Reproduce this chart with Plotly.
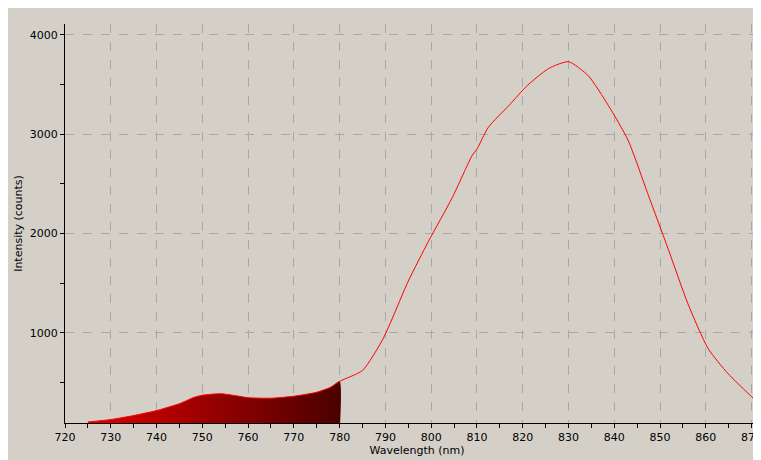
import plotly.graph_objects as go

wl = [725, 730, 735, 740, 745, 748, 750, 754, 758, 760, 765, 770, 775, 778, 780,
      785, 789.5, 795, 799.4, 804.6, 809, 810, 812.5, 817, 821, 825.6, 830, 834.3,
      838.7, 843, 847.4, 851.8, 856.1, 860.5, 864.8, 869.2, 873.8]
inten = [100, 125, 165, 215, 285, 345, 370, 385, 360, 345, 340, 360, 400, 450, 510,
         620, 940, 1520, 1920, 2360, 2790, 2850, 3070, 3290, 3490, 3660, 3730, 3590,
         3290, 2940, 2390, 1840, 1290, 840, 590, 390, 190]

fill_x = [x for x in wl if x <= 780]
fill_y = inten[:len(fill_x)]

fig = go.Figure()
fig.add_trace(go.Scatter(x=fill_x + [780], y=fill_y + [0], mode="lines",
                         line=dict(width=0, shape="spline", smoothing=0.6),
                         fill="tozeroy",
                         fillgradient=dict(type="horizontal",
                                           colorscale=[[0, "#e00000"], [1, "#4a0000"]]),
                         hoverinfo="skip", showlegend=False))
fig.add_trace(go.Scatter(x=wl, y=inten, mode="lines",
                         line=dict(color="#ff0000", width=1, shape="spline", smoothing=0.6),
                         showlegend=False))

axis_common = dict(showline=True, linecolor="black", linewidth=1, ticks="outside",
                   tickcolor="black", ticklen=4, gridcolor="#a8a8a8", griddash="dash",
                   zeroline=False, automargin=False, tickfont=dict(size=11, color="black"))
fig.update_layout(
    width=761, height=460, margin=dict(l=57, r=0, t=16, b=45, autoexpand=False),
    paper_bgcolor="#d4d0c8", plot_bgcolor="#d4d0c8",
    font=dict(family="DejaVu Sans", size=11, color="black"),
    xaxis=dict(range=[720, 873.8], dtick=10, title=dict(text="Wavelength (nm)", font=dict(size=11), standoff=2),
               minor=dict(dtick=5, ticks="outside", ticklen=4, tickcolor="black", showgrid=False),
               **axis_common),
    yaxis=dict(range=[90, 4110], tickvals=[1000, 2000, 3000, 4000],
               title=dict(text="Intensity (counts)", font=dict(size=11), standoff=4),
               minor=dict(tickvals=[500, 1500, 2500, 3500], ticks="outside", ticklen=4, tickcolor="black", showgrid=False),
               **axis_common),
)
fig.write_html("out.html")
